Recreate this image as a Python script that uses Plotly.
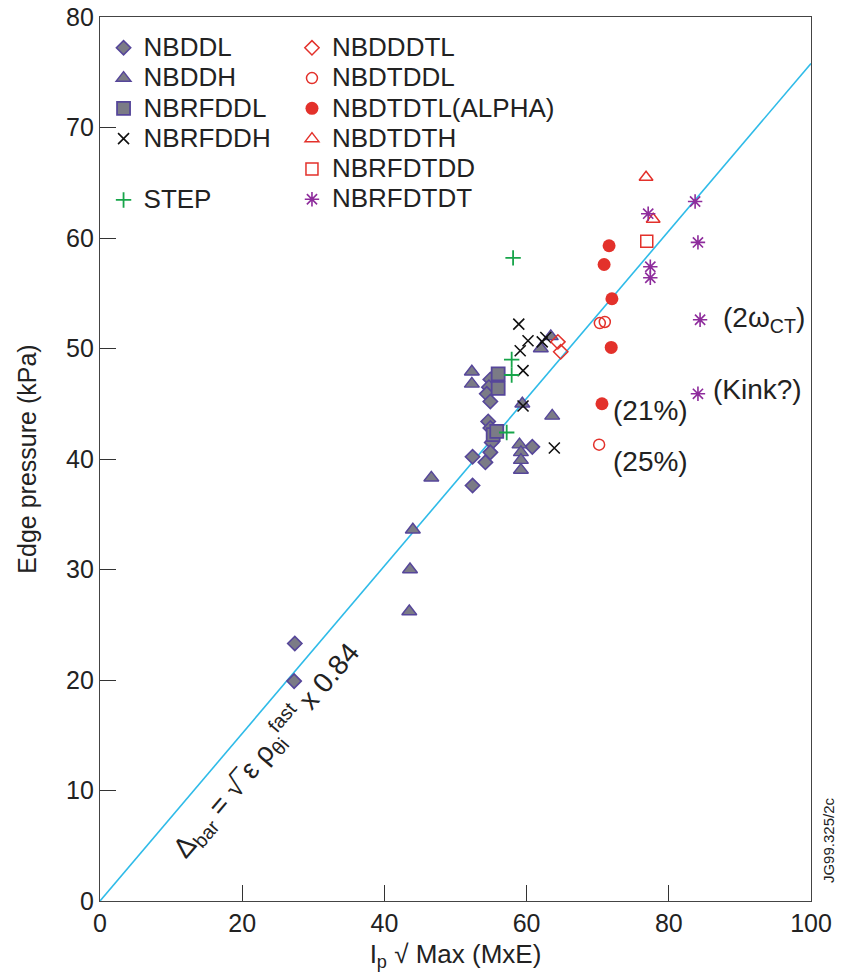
import plotly.graph_objects as go

# ---------------- data ----------------
NBDDL_X = [27.4, 27.3, 54.9, 54.7, 54.4, 54.9, 54.6, 54.9, 55.1, 54.9, 52.4, 54.2, 52.4, 60.8]
NBDDL_Y = [23.3, 19.9, 47.2, 46.5, 45.9, 45.2, 43.4, 42.8, 41.5, 40.6, 40.2, 39.7, 37.6, 41.1]

NBDDH_X = [52.3, 52.3, 46.6, 44.0, 43.6, 43.5, 59.4, 63.6, 59.0, 59.2, 59.2, 59.2, 62.0, 63.4]
NBDDH_Y = [47.9, 46.8, 38.3, 33.6, 30.0, 26.2, 45.0, 43.9, 41.3, 40.6, 39.9, 39.0, 50.0, 51.1]

NBRFDDL_X = [56.0, 56.0, 55.3, 55.8]
NBRFDDL_Y = [47.7, 46.4, 42.2, 42.5]

NBRFDDH_X = [58.9, 60.2, 59.1, 59.5, 62.2, 62.7, 59.5, 63.9]
NBRFDDH_Y = [52.2, 50.7, 49.8, 48.0, 50.6, 51.0, 44.8, 41.0]

STEP_X = [58.1, 57.9, 57.9, 57.2]
STEP_Y = [58.2, 49.0, 47.6, 42.4]

NBDDDTL_X = [64.4, 64.8]
NBDDDTL_Y = [50.6, 49.7]

NBDTDDL_X = [70.3, 71.0, 70.2]
NBDTDDL_Y = [52.3, 52.4, 41.3]

NBDTDTL_X = [71.6, 70.9, 72.0, 71.9, 70.6]
NBDTDTL_Y = [59.3, 57.6, 54.5, 50.1, 45.0]

NBDTDTH_X = [76.8, 77.8]
NBDTDTH_Y = [65.5, 61.7]

NBRFDTDD_X = [76.9]
NBRFDTDD_Y = [59.7]

NBRFDTDT_X = [83.7, 77.1, 84.1, 77.4, 77.4, 84.4, 84.1]
NBRFDTDT_Y = [63.3, 62.2, 59.6, 57.4, 56.4, 52.6, 45.9]

FIT_X = [0, 100]
FIT_SLOPE = 0.758

X_TICKS = [0, 20, 40, 60, 80, 100]
Y_TICKS = [0, 10, 20, 30, 40, 50, 60, 70, 80]

# ---------------- styles ----------------
PURPLE = "#56469a"
GRAY = "#7b7b86"
RED = "#e3312b"
GREEN = "#17a54a"
MAG = "#8e2c9c"
CYAN = "#2fbbe8"
FONT = "Liberation Sans, Arial, sans-serif"

fig = go.Figure()

# fit line
fig.add_trace(go.Scatter(x=FIT_X, y=[v * FIT_SLOPE for v in FIT_X], mode="lines",
                         line=dict(color=CYAN, width=1.6), showlegend=False, hoverinfo="skip"))

def add(name, xs, ys, symbol, size, color, fill, lw, legend, group):
    fig.add_trace(go.Scatter(
        x=xs, y=ys, mode="markers",
        name='<span style="font-size:26px">%s</span>' % name,
        legend=legend, legendgroup=group,
        marker=dict(symbol=symbol, size=size, color=fill,
                    line=dict(color=color, width=lw))))

add("NBDDL", NBDDL_X, NBDDL_Y, "diamond", 11, PURPLE, GRAY, 1.6, "legend", "a")
add("NBDDH", NBDDH_X, NBDDH_Y, "triangle-up", 13, PURPLE, GRAY, 1.4, "legend", "a")
add("NBRFDDL", NBRFDDL_X, NBRFDDL_Y, "square", 13, PURPLE, GRAY, 1.8, "legend", "a")
add("NBRFDDH", NBRFDDH_X, NBRFDDH_Y, "x-thin-open", 11, "#111111", "#111111", 1.6, "legend", "a")
add("STEP", STEP_X, STEP_Y, "cross-thin-open", 11, GREEN, GREEN, 1.8, "legend", "b")

add("NBDDDTL", NBDDDTL_X, NBDDDTL_Y, "diamond-open", 11, RED, RED, 1.5, "legend2", "c")
add("NBDTDDL", NBDTDDL_X, NBDTDDL_Y, "circle-open", 11, RED, RED, 1.5, "legend2", "c")
add("NBDTDTL(ALPHA)", NBDTDTL_X, NBDTDTL_Y, "circle", 13, RED, RED, 0, "legend2", "c")
add("NBDTDTH", NBDTDTH_X, NBDTDTH_Y, "triangle-up-open", 12, RED, RED, 1.5, "legend2", "c")
add("NBRFDTDD", NBRFDTDD_X, NBRFDTDD_Y, "square-open", 12, RED, RED, 1.5, "legend2", "c")
add("NBRFDTDT", NBRFDTDT_X, NBRFDTDT_Y, "asterisk-open", 12, MAG, MAG, 1.6, "legend2", "c")

ann_font = dict(family=FONT, size=28, color="#222222")
annotations = [
    dict(x=87.4, y=52.6, text="(2ω<sub>CT</sub>)", xanchor="left", yanchor="middle", showarrow=False, font=ann_font),
    dict(x=86.0, y=46.3, text="(Kink?)", xanchor="left", yanchor="middle", showarrow=False, font=ann_font),
    dict(x=71.8, y=44.4, text="(21%)", xanchor="left", yanchor="middle", showarrow=False, font=ann_font),
    dict(x=71.9, y=39.8, text="(25%)", xanchor="left", yanchor="middle", showarrow=False, font=ann_font),
    dict(x=23.3, y=13.7, text="Δ<sub>bar</sub> = √‾ε ρ<sub>θi</sub><sup>fast</sup> x 0.84",
         textangle=-49.7, showarrow=False, xanchor="center", yanchor="middle",
         font=dict(family=FONT, size=28, color="#222222")),
    dict(xref="paper", yref="paper", x=1.024, y=0.069, text="JG99.325/2c", textangle=-90,
         showarrow=False, xanchor="center", yanchor="middle",
         font=dict(family=FONT, size=15, color="#222222")),
]
for a in annotations:
    a.setdefault("xref", "x")
    a.setdefault("yref", "y")

axis_common = dict(showgrid=False, zeroline=False, showline=True, linecolor="#444444", linewidth=1.3,
                   mirror=True, ticks="inside", ticklen=16, tickwidth=1.2, tickcolor="#333333",
                   automargin=False,
                   tickfont=dict(family=FONT, size=25, color="#222222"))

fig.update_layout(
    width=841, height=978,
    margin=dict(l=100, r=30, t=17, b=77, autoexpand=False),
    paper_bgcolor="white", plot_bgcolor="white",
    font=dict(family=FONT, color="#222222"),
    xaxis=dict(range=[0, 100], tickvals=X_TICKS, ticktext=[str(v) for v in X_TICKS],
               title=dict(text="I<sub>p</sub> √ Max (MxE)", font=dict(family=FONT, size=26), standoff=8),
               **axis_common),
    yaxis=dict(range=[0, 80], tickvals=Y_TICKS, ticktext=[str(v) for v in Y_TICKS],
               title=dict(text="Edge pressure (kPa)", font=dict(family=FONT, size=25), standoff=22),
               **axis_common),
    legend=dict(x=0.005, y=0.988, xanchor="left", yanchor="top", bgcolor="rgba(0,0,0,0)",
                font=dict(family=FONT, size=21, color="#222222"), tracegroupgap=31,
                itemsizing="trace"),
    legend2=dict(x=0.27, y=0.988, xanchor="left", yanchor="top", bgcolor="rgba(0,0,0,0)",
                 font=dict(family=FONT, size=21, color="#222222"), tracegroupgap=0,
                 itemsizing="trace"),
    annotations=annotations,
    showlegend=True,
)

fig.write_html("out.html")
